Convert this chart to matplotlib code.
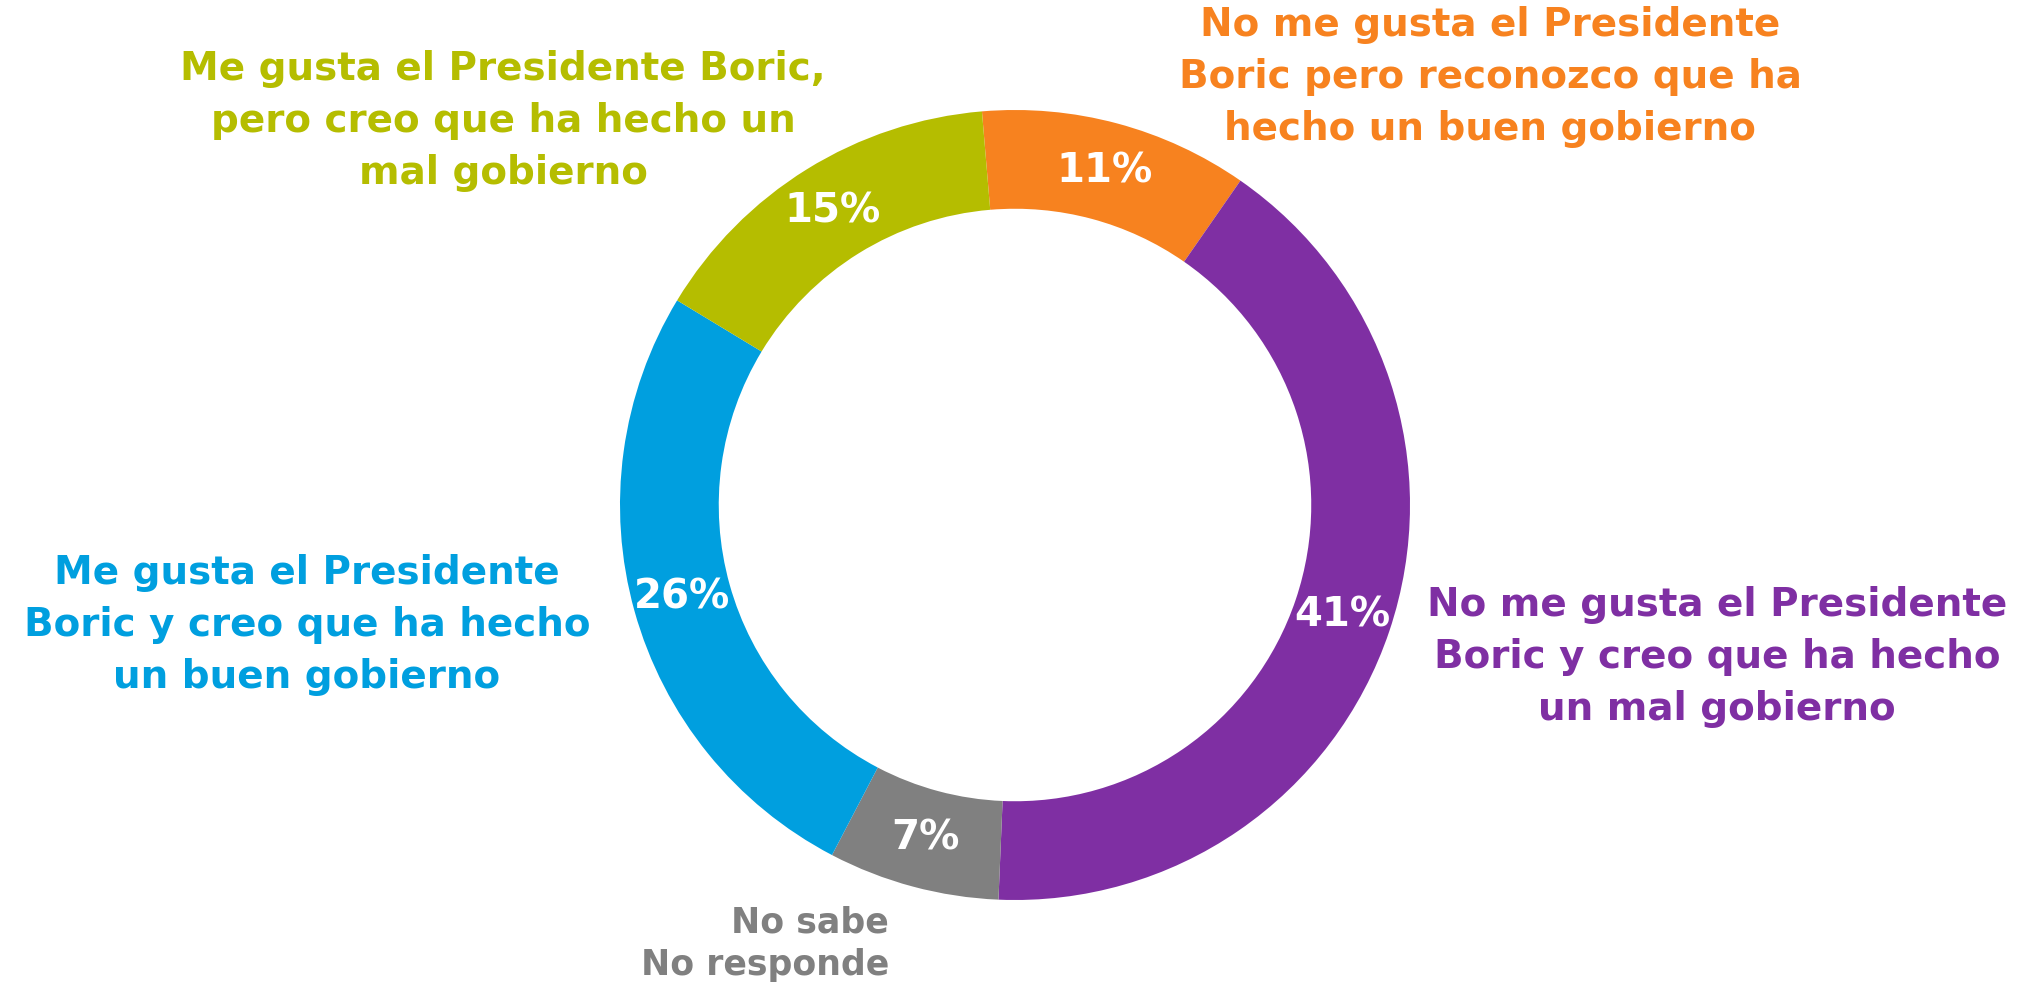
import matplotlib.pyplot as plt

labels = [
    "No me gusta el Presidente\nBoric pero reconozco que ha\nhecho un buen gobierno",
    "No me gusta el Presidente\nBoric y creo que ha hecho\nun mal gobierno",
    "No sabe\nNo responde",
    "Me gusta el Presidente\nBoric y creo que ha hecho\nun buen gobierno",
    "Me gusta el Presidente Boric,\npero creo que ha hecho un\nmal gobierno",
]
values = [11, 41, 7, 26, 15]
colors = ["#F7821F", "#7F2FA3", "#808080", "#009FDF", "#B5BD00"]

W, H = 2031, 986
fig = plt.figure(figsize=(W / 100, H / 100), dpi=100)
plt.rcParams['font.family'] = ['DejaVu Sans']

# ring: centre (1015, 505) px, outer radius 395 px
cx, cy, r = 1015, 505, 395
ax = fig.add_axes([(cx - r) / W, (H - cy - r) / H, 2 * r / W, 2 * r / H])

wedges, texts, autotexts = ax.pie(
    values, colors=colors, startangle=94.8, counterclock=False,
    radius=1, wedgeprops=dict(width=0.25, linewidth=0),
    autopct=lambda p: f"{p:.0f}%", pctdistance=0.875,
    textprops=dict(color="white", fontsize=29, fontweight="bold"))
ax.set_xlim(-1, 1)
ax.set_ylim(-1, 1)
ax.set_aspect("equal")
ax.axis("off")

# category labels (pixel positions of text centres)
pos = [
    (1490, 77, "center"),
    (1717, 657, "center"),
    (889, 944, "right"),
    (307, 625, "center"),
    (503, 121, "center"),
]
for lab, col, (x, y, ha) in zip(labels, colors, pos):
    small = ha == "right"
    fig.text(x / W, 1 - y / H, lab, color=col, fontsize=25 if small else 28,
             fontweight="bold", ha=ha, va="center", multialignment=ha,
             linespacing=1.3 if small else 1.45)

fig.savefig("out.png", dpi=100)
